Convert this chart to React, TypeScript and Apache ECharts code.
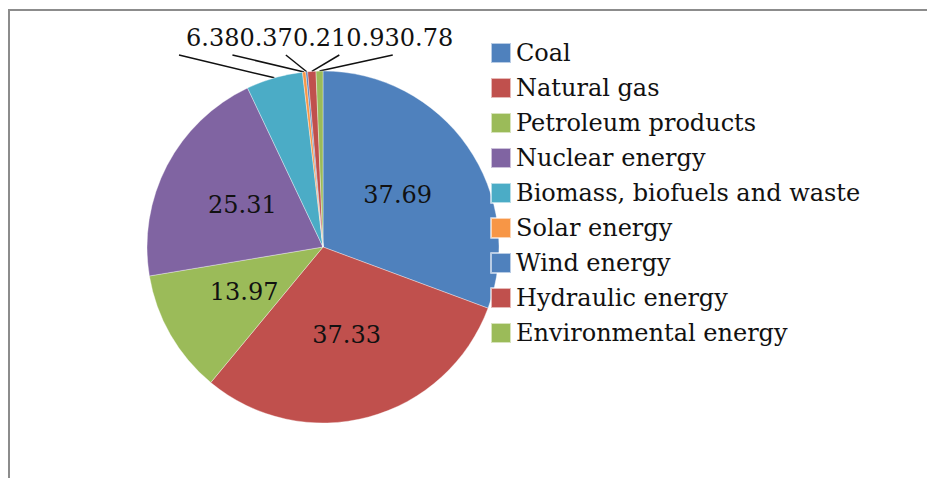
import React, { useEffect, useRef } from "react";
import * as echarts from "echarts";

const categories = [
  "Coal",
  "Natural gas",
  "Petroleum products",
  "Nuclear energy",
  "Biomass, biofuels and waste",
  "Solar energy",
  "Wind energy",
  "Hydraulic energy",
  "Environmental energy",
];
const values = [37.69, 37.33, 13.97, 25.31, 6.38, 0.37, 0.21, 0.93, 0.78];
const colors = [
  "#4F81BD",
  "#C0504D",
  "#9BBB59",
  "#8064A2",
  "#4BACC6",
  "#F79646",
  "#4F81BD",
  "#C0504D",
  "#9BBB59",
];
const outsideFrom = 4;

const FONT = "'DejaVu Serif', serif";

export default function App() {
  const ref = useRef<HTMLDivElement>(null);
  useEffect(() => {
    if (!ref.current) return;
    const chart = echarts.init(ref.current, undefined, { renderer: "svg" });
    const topRowLeft = 186;
    const topRowY = 38;
    chart.setOption({
      animation: false,
      backgroundColor: "#ffffff",
      graphic: [
        {
          type: "line",
          shape: { x1: 9, y1: 10, x2: 927, y2: 10 },
          style: { stroke: "#8c8c8c", lineWidth: 2 },
          z: 100,
        },
        {
          type: "line",
          shape: { x1: 9, y1: 9, x2: 9, y2: 478 },
          style: { stroke: "#8c8c8c", lineWidth: 2 },
          z: 100,
        },
      ],
      legend: {
        orient: "vertical",
        left: 490,
        top: 41,
        padding: 0,
        itemWidth: 20,
        itemHeight: 20,
        itemGap: 11,
        icon: "rect",
        textStyle: {
          fontFamily: FONT,
          fontSize: 24,
          color: "#111",
        },
        data: categories,
      },
      series: [
        {
          type: "pie",
          center: [323, 247],
          radius: 176,
          startAngle: 90,
          clockwise: true,
          avoidLabelOverlap: false,
          minShowLabelAngle: 0,
          itemStyle: { borderColor: "rgba(255,255,255,0.6)", borderWidth: 0.6 },
          label: {
            show: true,
            position: "inside",
            fontFamily: FONT,
            fontSize: 24,
            color: "#111",
            formatter: (p: any) => String(p.value),
          },
          labelLine: { show: true, lineStyle: { color: "#111", width: 1.5 } },
          labelLayout: (p: any) => {
            const k = p.dataIndex - outsideFrom;
            if (k < 0) return {};
            const w = p.labelRect.width;
            const left = topRowLeft + k * w;
            const anchor = p.labelLinePoints ? p.labelLinePoints[0] : null;
            const res: any = {
              x: left,
              y: topRowY,
              align: "left",
              verticalAlign: "middle",
            };
            if (anchor) {
              res.labelLinePoints = [anchor, [left - 7, topRowY + 17]];
            }
            return res;
          },
          data: categories.map((name, i) => ({
            name,
            value: values[i],
            itemStyle: { color: colors[i] },
            label:
              i >= outsideFrom
                ? { position: "outside", fontSize: 24 }
                : { position: "inside" },
            labelLine: { show: i >= outsideFrom, length: 10, length2: 10 },
          })),
        },
      ],
    });
    return () => chart.dispose();
  }, []);
  return (
    <div
      style={{
        position: "fixed",
        left: 0,
        top: 0,
        width: 927,
        height: 478,
        overflow: "hidden",
        background: "#fff",
      }}
    >
      <div ref={ref} style={{ width: 927, height: 478 }} />
    </div>
  );
}
